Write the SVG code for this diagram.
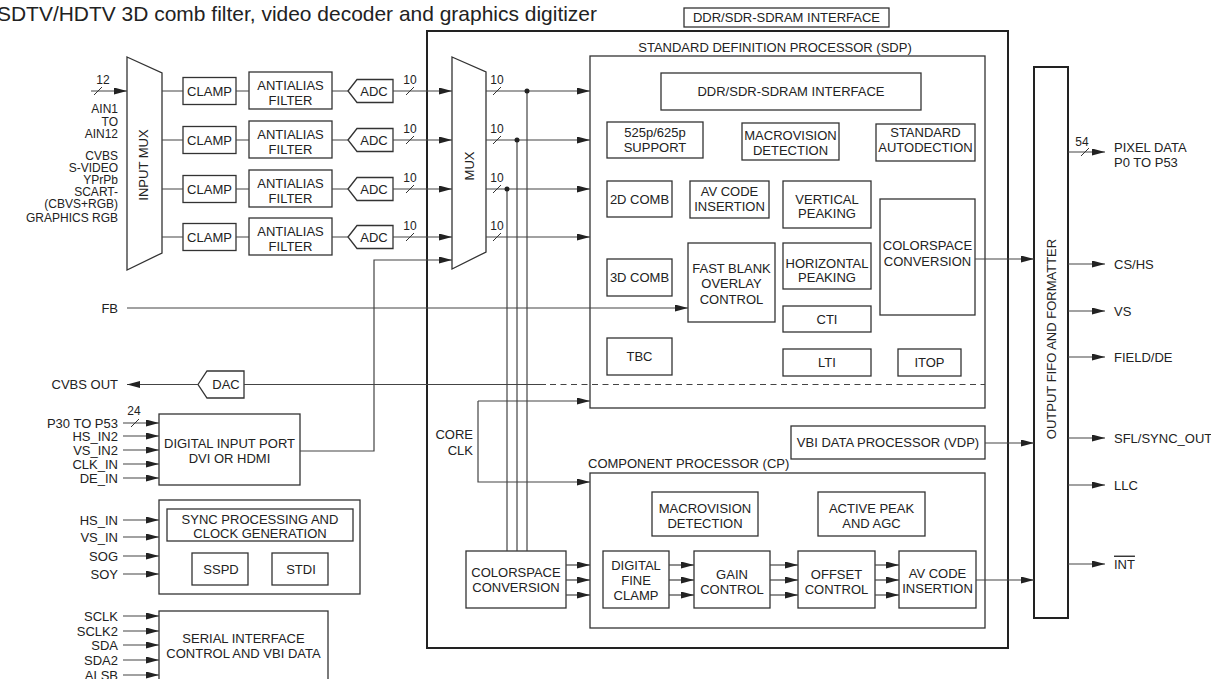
<svg xmlns="http://www.w3.org/2000/svg" width="1211" height="679" viewBox="0 0 1211 679">
<style>
.t{font-family:"Liberation Sans",Arial,sans-serif;font-size:13px;fill:#222}
.c{text-anchor:middle}
.e{text-anchor:end}
.n{font-size:12px}
.k{font-size:12px}
.b{fill:none;stroke:#333;stroke-width:1.3}
.B{fill:none;stroke:#222;stroke-width:2}
.l{fill:none;stroke:#444;stroke-width:1.2}
.a{marker-end:url(#ah)}
.d{stroke-dasharray:6 4.5}
.s{fill:none;stroke:#333;stroke-width:1}
</style>
<defs>
<marker id="ah" viewBox="0 0 13 7" refX="13" refY="3.5" markerWidth="13" markerHeight="7" markerUnits="userSpaceOnUse" orient="auto"><path d="M0,0 L13,3.5 L0,7 z" fill="#222"/></marker>
</defs>
<rect width="1211" height="679" fill="#fff"/>
<text class="t" x="-3" y="21" textLength="600" lengthAdjust="spacingAndGlyphs" style="font-size:21px">SDTV/HDTV 3D comb filter, video decoder and graphics digitizer</text>

<g id="ddr-top"><rect class="b" x="684" y="8" width="205" height="19"/><text class="t c" x="786.5" y="22">DDR/SDR-SDRAM INTERFACE</text></g>

<g id="outer"><rect class="B" x="427" y="31" width="581" height="617"/></g>

<g id="sdp"><rect class="b" x="590" y="56" width="395" height="352"/><text class="t c" x="775" y="51.6">STANDARD DEFINITION PROCESSOR (SDP)</text></g>
<g id="sdp-ddr"><rect class="b" x="661" y="73" width="260" height="37"/><text class="t c" x="791" y="96">DDR/SDR-SDRAM INTERFACE</text></g>
<g id="sdp-525"><rect class="b" x="607" y="122" width="96" height="36"/><text class="t c" x="655" y="137.3">525p/625p</text><text class="t c" x="655" y="152.3">SUPPORT</text></g>
<g id="sdp-macro"><rect class="b" x="742" y="123" width="97" height="37"/><text class="t c" x="790.5" y="139.6">MACROVISION</text><text class="t c" x="790.5" y="154.6">DETECTION</text></g>
<g id="sdp-std"><rect class="b" x="876" y="124" width="99" height="37"/><text class="t c" x="925.5" y="137.3">STANDARD</text><text class="t c" x="925.5" y="152">AUTODECTION</text></g>
<g id="sdp-2d"><rect class="b" x="607" y="181" width="65" height="36"/><text class="t c" x="639.5" y="203.6">2D COMB</text></g>
<g id="sdp-av"><rect class="b" x="690" y="181" width="79" height="37"/><text class="t c" x="729.5" y="196.3">AV CODE</text><text class="t c" x="729.5" y="211.3">INSERTION</text></g>
<g id="sdp-vp"><rect class="b" x="783" y="181" width="88" height="47"/><text class="t c" x="827" y="203.6">VERTICAL</text><text class="t c" x="827" y="218">PEAKING</text></g>
<g id="sdp-csc"><rect class="b" x="880" y="199" width="95" height="116"/><text class="t c" x="927.5" y="249.6">COLORSPACE</text><text class="t c" x="927.5" y="265.6">CONVERSION</text></g>
<g id="sdp-3d"><rect class="b" x="607" y="259" width="65" height="37"/><text class="t c" x="639.5" y="282">3D COMB</text></g>
<g id="sdp-fb"><rect class="b" x="688" y="243" width="87" height="79"/><text class="t c" x="731.5" y="272.6">FAST BLANK</text><text class="t c" x="731.5" y="287.6">OVERLAY</text><text class="t c" x="731.5" y="303.6">CONTROL</text></g>
<g id="sdp-hp"><rect class="b" x="783" y="243" width="88" height="46"/><text class="t c" x="827" y="268">HORIZONTAL</text><text class="t c" x="827" y="282.3">PEAKING</text></g>
<g id="sdp-cti"><rect class="b" x="783" y="306" width="88" height="26"/><text class="t c" x="827" y="323.6">CTI</text></g>
<g id="sdp-tbc"><rect class="b" x="607" y="338" width="65" height="37"/><text class="t c" x="639.5" y="361">TBC</text></g>
<g id="sdp-lti"><rect class="b" x="783" y="349" width="88" height="27"/><text class="t c" x="827" y="367">LTI</text></g>
<g id="sdp-itop"><rect class="b" x="898" y="349" width="63" height="27"/><text class="t c" x="929.5" y="367">ITOP</text></g>

<g id="vdp"><rect class="b" x="791" y="426" width="194" height="33"/><text class="t c" x="888" y="447">VBI DATA PROCESSOR (VDP)</text></g>

<g id="cp"><rect class="b" x="590" y="473" width="395" height="155"/><text class="t" x="588" y="467.6">COMPONENT PROCESSOR (CP)</text></g>
<g id="cp-macro"><rect class="b" x="652" y="492" width="106" height="44"/><text class="t c" x="705" y="513">MACROVISION</text><text class="t c" x="705" y="528">DETECTION</text></g>
<g id="cp-agc"><rect class="b" x="818" y="492" width="107" height="44"/><text class="t c" x="871.5" y="513">ACTIVE PEAK</text><text class="t c" x="871.5" y="528">AND AGC</text></g>
<g id="cp-csc"><rect class="b" x="466" y="551" width="100" height="57"/><text class="t c" x="516" y="577.3">COLORSPACE</text><text class="t c" x="516" y="592">CONVERSION</text></g>
<g id="cp-clamp"><rect class="b" x="603" y="551" width="66" height="57"/><text class="t c" x="636" y="570.3">DIGITAL</text><text class="t c" x="636" y="585.3">FINE</text><text class="t c" x="636" y="599.6">CLAMP</text></g>
<g id="cp-gain"><rect class="b" x="694" y="551" width="76" height="57"/><text class="t c" x="732" y="578.6">GAIN</text><text class="t c" x="732" y="594">CONTROL</text></g>
<g id="cp-offset"><rect class="b" x="798" y="551" width="77" height="57"/><text class="t c" x="836.5" y="578.6">OFFSET</text><text class="t c" x="836.5" y="594">CONTROL</text></g>
<g id="cp-av"><rect class="b" x="899" y="551" width="77" height="57"/><text class="t c" x="937.5" y="578">AV CODE</text><text class="t c" x="937.5" y="593">INSERTION</text></g>

<g id="fifo"><rect class="B" x="1034" y="67" width="34" height="551"/><text class="t c" transform="translate(1051,339) rotate(-90)" y="4.6">OUTPUT FIFO AND FORMATTER</text></g>

<g id="input-mux"><polygon class="b" points="127,57 162,73 162,253 127,270"/><text class="t c" transform="translate(143,165) rotate(-90)" y="4.6">INPUT MUX</text></g>
<g id="mux"><polygon class="b" points="452,57 486,72 486,252 452,269"/><text class="t c" transform="translate(469,166) rotate(-90)" y="4.6">MUX</text></g>

<g id="clamp1"><rect class="b" x="183" y="77.5" width="53" height="27"/><text class="t c" x="209.5" y="95.6">CLAMP</text></g>
<g id="clamp2"><rect class="b" x="183" y="126.5" width="53" height="27"/><text class="t c" x="209.5" y="144.6">CLAMP</text></g>
<g id="clamp3"><rect class="b" x="183" y="175.5" width="53" height="27"/><text class="t c" x="209.5" y="193.6">CLAMP</text></g>
<g id="clamp4"><rect class="b" x="183" y="223.5" width="53" height="27"/><text class="t c" x="209.5" y="241.6">CLAMP</text></g>
<g id="aaf1"><rect class="b" x="249" y="72" width="83" height="37"/><text class="t c" x="290.5" y="89.6">ANTIALIAS</text><text class="t c" x="290.5" y="104.6">FILTER</text></g>
<g id="aaf2"><rect class="b" x="249" y="121" width="83" height="37"/><text class="t c" x="290.5" y="138.6">ANTIALIAS</text><text class="t c" x="290.5" y="153.6">FILTER</text></g>
<g id="aaf3"><rect class="b" x="249" y="170" width="83" height="37"/><text class="t c" x="290.5" y="187.6">ANTIALIAS</text><text class="t c" x="290.5" y="202.6">FILTER</text></g>
<g id="aaf4"><rect class="b" x="249" y="218" width="83" height="37"/><text class="t c" x="290.5" y="235.6">ANTIALIAS</text><text class="t c" x="290.5" y="250.6">FILTER</text></g>
<g id="adc1"><polygon class="b" points="348,91 357,79.5 393,79.5 393,102.5 357,102.5"/><text class="t c" x="374" y="95.6">ADC</text></g>
<g id="adc2"><polygon class="b" points="348,140 357,128.5 393,128.5 393,151.5 357,151.5"/><text class="t c" x="374" y="144.6">ADC</text></g>
<g id="adc3"><polygon class="b" points="348,189 357,177.5 393,177.5 393,200.5 357,200.5"/><text class="t c" x="374" y="193.6">ADC</text></g>
<g id="adc4"><polygon class="b" points="348,237 357,225.5 393,225.5 393,248.5 357,248.5"/><text class="t c" x="374" y="241.6">ADC</text></g>

<g id="dac"><polygon class="b" points="198,384.5 207,371 244,371 244,398 207,398"/><text class="t c" x="226" y="389">DAC</text></g>

<g id="dip"><rect class="b" x="159" y="414" width="141" height="71"/><text class="t c" x="229.5" y="447.6">DIGITAL INPUT PORT</text><text class="t c" x="229.5" y="462.6">DVI OR HDMI</text></g>
<g id="sync"><rect class="b" x="159" y="500" width="201" height="94"/><rect class="b" x="167" y="509" width="186" height="32"/><text class="t c" x="260" y="523.6">SYNC PROCESSING AND</text><text class="t c" x="260" y="538.3">CLOCK GENERATION</text></g>
<g id="sspd"><rect class="b" x="192" y="553" width="56" height="32"/><text class="t c" x="221" y="573.6">SSPD</text></g>
<g id="stdi"><rect class="b" x="272" y="553" width="56" height="32"/><text class="t c" x="301" y="573.6">STDI</text></g>
<g id="serial"><rect class="b" x="159" y="611" width="169" height="90"/><text class="t c" x="243.5" y="642.6">SERIAL INTERFACE</text><text class="t c" x="243.5" y="657.6">CONTROL AND VBI DATA</text></g>

<g id="labels-left">
<text class="t n c" x="103" y="83.5">12</text>
<text class="t e k" x="118" y="112.5">AIN1</text>
<text class="t e k" x="118" y="125.5">TO</text>
<text class="t e k" x="118" y="138">AIN12</text>
<text class="t e k" x="118" y="159.5">CVBS</text>
<text class="t e k" x="118" y="171.5">S-VIDEO</text>
<text class="t e k" x="118" y="183.5">YPrPb</text>
<text class="t e k" x="118" y="195.8">SCART-</text>
<text class="t e k" x="118" y="208">(CBVS+RGB)</text>
<text class="t e k" x="118" y="221.5">GRAPHICS RGB</text>
<text class="t e" x="118" y="312.6">FB</text>
<text class="t e" x="118" y="388.8">CVBS OUT</text>
<text class="t n c" x="134" y="415">24</text>
<text class="t e" x="118" y="427.6">P30 TO P53</text>
<text class="t e" x="118" y="440.6">HS_IN2</text>
<text class="t e" x="118" y="454.6">VS_IN2</text>
<text class="t e" x="118" y="468.6">CLK_IN</text>
<text class="t e" x="118" y="482.6">DE_IN</text>
<text class="t e" x="118" y="524.6">HS_IN</text>
<text class="t e" x="118" y="541.6">VS_IN</text>
<text class="t e" x="118" y="560.6">SOG</text>
<text class="t e" x="118" y="578.6">SOY</text>
<text class="t e" x="118" y="620.6">SCLK</text>
<text class="t e" x="118" y="635.6">SCLK2</text>
<text class="t e" x="118" y="649.6">SDA</text>
<text class="t e" x="118" y="664.6">SDA2</text>
<text class="t e" x="118" y="679.6">ALSB</text>
<text class="t n c" x="410" y="84">10</text>
<text class="t n c" x="410" y="133">10</text>
<text class="t n c" x="410" y="182">10</text>
<text class="t n c" x="410" y="230">10</text>
<text class="t n c" x="497" y="84">10</text>
<text class="t n c" x="497" y="133">10</text>
<text class="t n c" x="497" y="182">10</text>
<text class="t n c" x="497" y="230">10</text>
<text class="t e" x="473" y="438.6">CORE</text>
<text class="t e" x="473" y="454.6">CLK</text>
</g>

<g id="labels-right">
<text class="t n c" x="1082" y="145.5">54</text>
<text class="t" x="1114" y="151.6">PIXEL DATA</text>
<text class="t" x="1114" y="166.6">P0 TO P53</text>
<text class="t" x="1114" y="268.6">CS/HS</text>
<text class="t" x="1114" y="315.6">VS</text>
<text class="t" x="1114" y="361.6">FIELD/DE</text>
<text class="t" x="1114" y="442.6">SFL/SYNC_OUT</text>
<text class="t" x="1114" y="489.6">LLC</text>
<text class="t" x="1114" y="568.6" style="text-decoration:overline">INT</text>
</g>

<g id="connectors">
<path class="l a" d="M91,91 H127"/>
<path class="s" d="M94,95 L102,87"/>
<path class="l" d="M162,91 H183 M236,91 H249 M332,91 H348"/>
<path class="l" d="M162,140 H183 M236,140 H249 M332,140 H348"/>
<path class="l" d="M162,189 H183 M236,189 H249 M332,189 H348"/>
<path class="l" d="M162,237 H183 M236,237 H249 M332,237 H348"/>
<path class="l a" d="M393,91 H452"/>
<path class="l a" d="M393,140 H452"/>
<path class="l a" d="M393,189 H452"/>
<path class="l a" d="M393,237 H452"/>
<path class="s" d="M406,95 L414,87 M406,144 L414,136 M406,193 L414,185 M406,241 L414,233"/>
<path class="l a" d="M486,91 H590"/>
<path class="l a" d="M486,140 H590"/>
<path class="l a" d="M486,189 H590"/>
<path class="l a" d="M486,237 H590"/>
<path class="s" d="M493,95 L501,87 M493,144 L501,136 M493,193 L501,185 M493,241 L501,233"/>
<path class="l" d="M527,91 V551 M517,140 V551 M507,189 V551"/>
<circle cx="527" cy="91" r="2.5" fill="#222"/>
<circle cx="517" cy="140" r="2.5" fill="#222"/>
<circle cx="507" cy="189" r="2.5" fill="#222"/>
<path class="l a" d="M300,451 H374 V260 H452"/>
<path class="l a" d="M127,308 H688"/>
<path class="l a" d="M198,384.5 H127"/>
<path class="l" d="M244,384.5 H546"/>
<path class="l d" d="M550,384.5 H985"/>
<path class="l a" d="M478,401 H590"/>
<path class="l a" d="M478,401 V482 H590"/>
<path class="l a" d="M123,423 H159"/>
<path class="s" d="M131,427 L139,419"/>
<path class="l a" d="M123,436 H159"/>
<path class="l a" d="M123,450 H159"/>
<path class="l a" d="M123,464 H159"/>
<path class="l a" d="M123,478 H159"/>
<path class="l a" d="M123,520 H159"/>
<path class="l a" d="M123,537 H159"/>
<path class="l a" d="M123,556 H159"/>
<path class="l a" d="M123,574 H159"/>
<path class="l a" d="M123,616 H159"/>
<path class="l a" d="M123,631 H159"/>
<path class="l a" d="M123,645 H159"/>
<path class="l a" d="M123,660 H159"/>
<path class="l a" d="M123,675 H159"/>
<path class="l a" d="M566,565 H590"/>
<path class="l a" d="M566,580 H590"/>
<path class="l a" d="M566,595 H590"/>
<path class="l a" d="M669,565 H694"/>
<path class="l a" d="M669,580 H694"/>
<path class="l a" d="M669,595 H694"/>
<path class="l a" d="M770,565 H798"/>
<path class="l a" d="M770,580 H798"/>
<path class="l a" d="M770,595 H798"/>
<path class="l a" d="M875,565 H899"/>
<path class="l a" d="M875,580 H899"/>
<path class="l a" d="M875,595 H899"/>
<path class="l a" d="M976,580 H1034"/>
<path class="l a" d="M985,443 H1034"/>
<path class="l a" d="M975,259 H1034"/>
<path class="l a" d="M1068,152 H1105"/>
<path class="s" d="M1081,156 L1089,148"/>
<path class="l a" d="M1068,264 H1105"/>
<path class="l a" d="M1068,311 H1105"/>
<path class="l a" d="M1068,357 H1105"/>
<path class="l a" d="M1068,438 H1105"/>
<path class="l a" d="M1068,485 H1105"/>
<path class="l a" d="M1068,564 H1105"/>
</g>
</svg>
